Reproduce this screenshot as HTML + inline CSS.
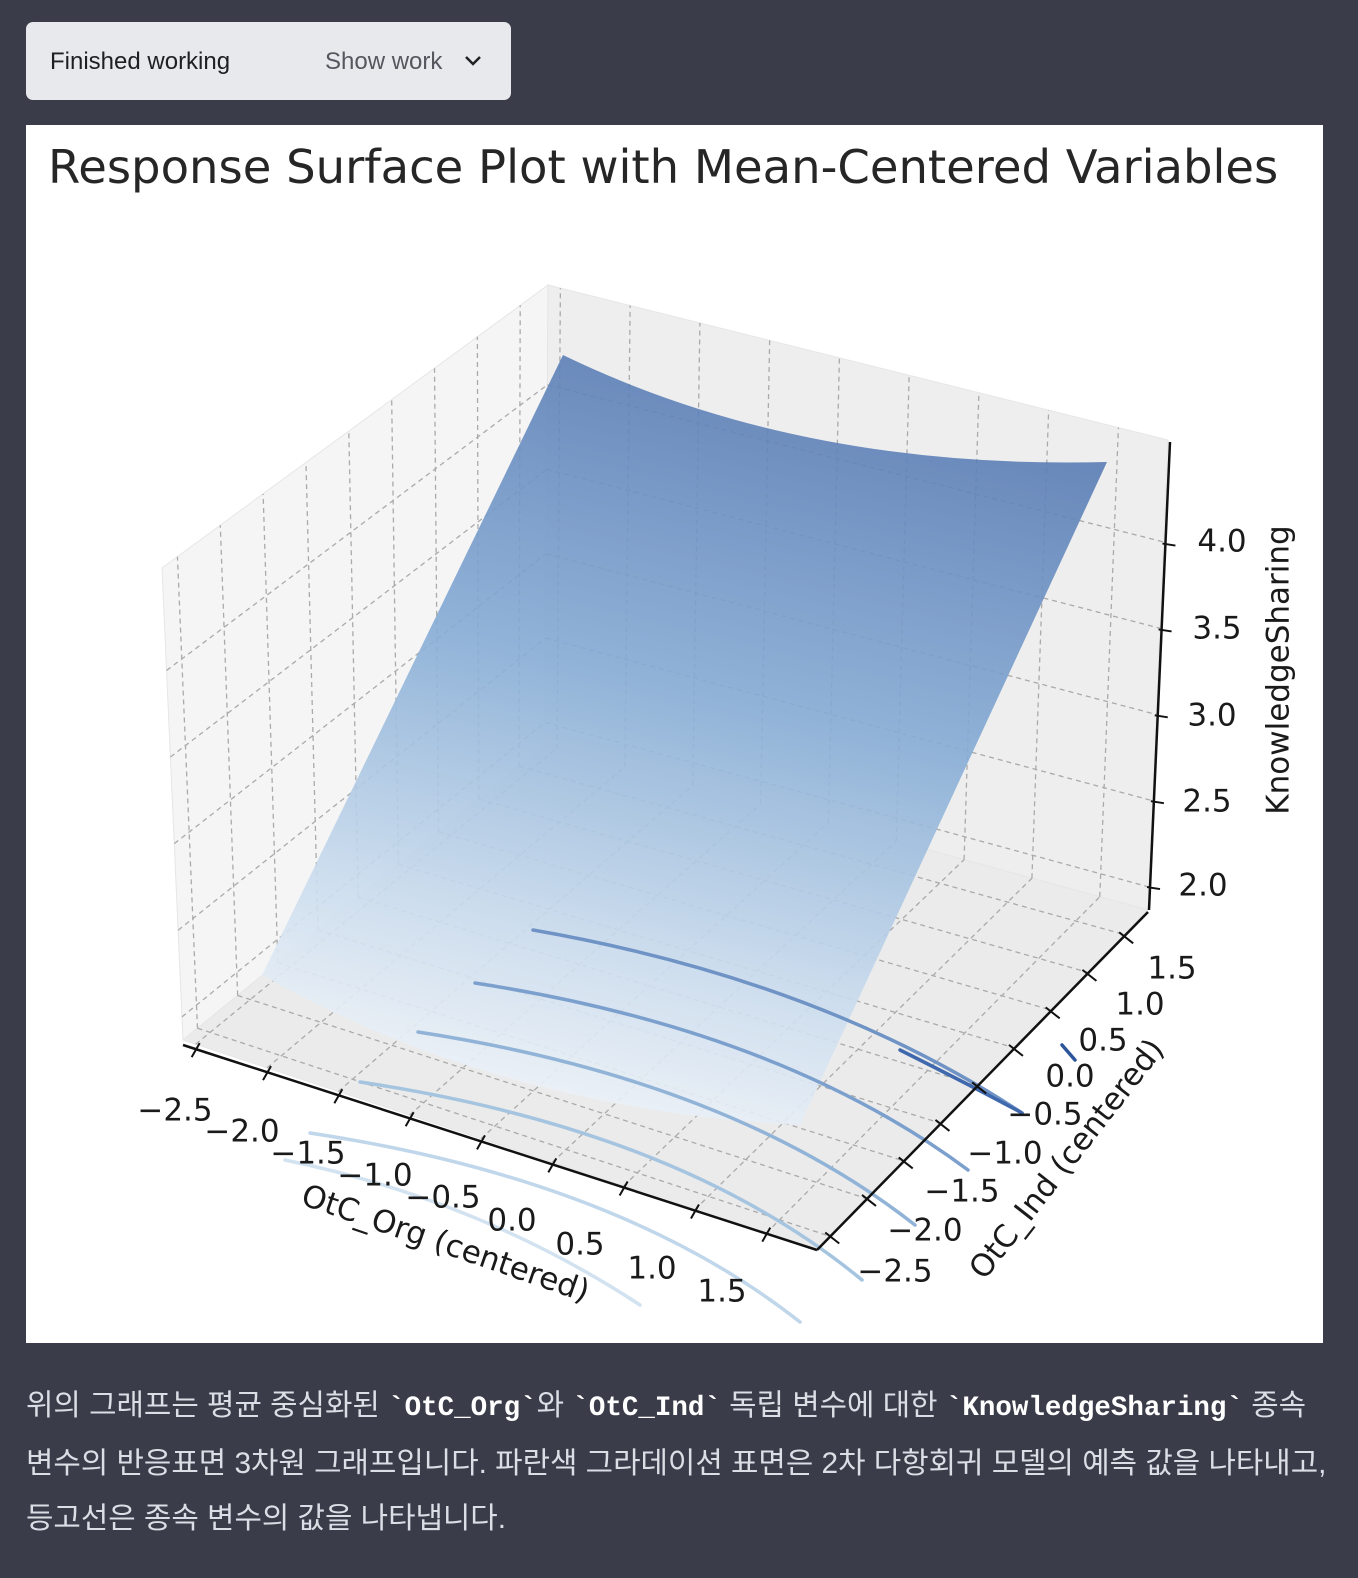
<!DOCTYPE html>
<html><head><meta charset="utf-8"><style>
body{margin:0;width:1358px;height:1578px;background:#3a3c49;position:relative;overflow:hidden;font-family:"Liberation Sans","Noto Sans CJK KR",sans-serif}
.btn{position:absolute;left:26px;top:22px;width:485px;height:78px;background:#e8e9ed;border-radius:7px}
.btn .a{position:absolute;left:24px;top:26px;font-size:24px;color:#1e1f25}
.btn .b{position:absolute;left:299px;top:26px;font-size:24px;color:#55575f}
.chart{position:absolute;left:26px;top:125px;width:1297px;height:1218px;background:#fff}
.txt{position:absolute;left:26px;top:1378px;width:1330px;color:#dcdee6;font-size:29.8px;line-height:55px;white-space:nowrap}
.txt code{font-family:"Liberation Mono",monospace;font-weight:bold;color:#fff;font-size:27.5px}
</style></head><body>
<div class="btn"><span class="a">Finished working</span><span class="b">Show work</span>
<svg style="position:absolute;left:437px;top:31px" width="20" height="16"><path d="M3 4 L10 11 L17 4" stroke="#222" stroke-width="2.5" fill="none"/></svg></div>
<div class="chart"></div>
<svg id="s" style="position:absolute;left:0;top:0" width="1358" height="1578" font-family="DejaVu Sans, Liberation Sans, sans-serif">
<defs>
<linearGradient id="sg" gradientUnits="userSpaceOnUse" x1="720" y1="380" x2="540" y2="1130">
<stop offset="0" stop-color="#5a7db5"/><stop offset="0.4" stop-color="#86acd5"/><stop offset="0.75" stop-color="#cadcee"/><stop offset="1" stop-color="#f3f6fa"/></linearGradient>
</defs>
<g id="walls">
<polygon points="162,568 548,285 545,745 183,1040" fill="#f5f5f5" stroke="#e6e6e6"/>
<polygon points="548,285 1168,440 1148,910 545,745" fill="#eeeeee" stroke="#e6e6e6"/>
<polygon points="183,1040 545,745 1148,910 817,1250" fill="#ebebeb" stroke="#e6e6e6"/>
</g>
<g id="grid" stroke="#aaa" stroke-width="1.3" stroke-dasharray="5,4" fill="none"></g>
<path d="M563,355 Q800,470 1107,462 L800,1125 Q500,1110 262,975 Z" fill="url(#sg)" opacity="0.9"/>
<g fill="none" stroke-width="3.5" stroke-linecap="round">
<path d="M533,930 Q820,980 1022,1113" stroke="#6f93c5"/>
<path d="M900,1050 Q970,1085 1022,1113" stroke="#3f68ad"/>
<path d="M475,983 Q780,1030 968,1170" stroke="#7ca0cd"/>
<path d="M418,1032 Q730,1080 915,1225" stroke="#90b3d7"/>
<path d="M360,1082 Q680,1130 862,1280" stroke="#a5c4e0"/>
<path d="M310,1133 Q620,1180 800,1322" stroke="#c0d6ea"/>
<path d="M285,1160 Q480,1200 640,1305" stroke="#d2e2f0"/>
<path d="M1062,1045 L1075,1060" stroke="#2d559a"/>
</g>
<g stroke="#111" stroke-width="2.5">
<line x1="183" y1="1045" x2="817" y2="1250"/>
<line x1="817" y1="1250" x2="1148" y2="912"/>
<line x1="1170" y1="442" x2="1149" y2="910"/>
</g>
<g id="ticks" stroke="#111" stroke-width="2"></g>
<text x="48" y="183" font-size="46.5" fill="#262626">Response Surface Plot with Mean-Centered Variables</text>
<g font-size="31" fill="#1a1a1a" text-anchor="middle" dominant-baseline="middle">
<text x="1222" y="543">4.0</text><text x="1217" y="630">3.5</text><text x="1212" y="717">3.0</text><text x="1207" y="803">2.5</text><text x="1203" y="887">2.0</text>
<text x="175" y="1112">−2.5</text><text x="242" y="1133">−2.0</text><text x="308" y="1155">−1.5</text><text x="375" y="1177">−1.0</text><text x="443" y="1199">−0.5</text><text x="512" y="1222">0.0</text><text x="580" y="1246">0.5</text><text x="652" y="1270">1.0</text><text x="722" y="1293">1.5</text>
<text x="895" y="1273">−2.5</text><text x="925" y="1232">−2.0</text><text x="962" y="1193">−1.5</text><text x="1005" y="1155">−1.0</text><text x="1045" y="1116">−0.5</text><text x="1070" y="1078">0.0</text><text x="1103" y="1042">0.5</text><text x="1140" y="1006">1.0</text><text x="1172" y="970">1.5</text>
<text transform="translate(1280,670) rotate(-90)">KnowledgeSharing</text>
<text transform="translate(445,1245) rotate(19)">OtC_Org (centered)</text>
<text transform="translate(1068,1160) rotate(-52)">OtC_Ind (centered)</text>
</g>
</svg>
<div class="txt">위의 그래프는 평균 중심화된 <code>`OtC_Org`</code>와 <code>`OtC_Ind`</code> 독립 변수에 대한 <code>`KnowledgeSharing`</code> 종속<br>변수의 반응표면 3차원 그래프입니다. 파란색 그라데이션 표면은 2차 다항회귀 모델의 예측 값을 나타내고,<br>등고선은 종속 변수의 값을 나타냅니다.</div>
<script>
const NS="http://www.w3.org/2000/svg",g=document.getElementById('grid'),tk=document.getElementById('ticks');
function L(p,q,par){const l=document.createElementNS(NS,'line');l.setAttribute('x1',p[0]);l.setAttribute('y1',p[1]);l.setAttribute('x2',q[0]);l.setAttribute('y2',q[1]);(par||g).appendChild(l);}
function lerp(a,b,t){return [a[0]+(b[0]-a[0])*t,a[1]+(b[1]-a[1])*t];}
const F0=[183,1040],F1=[817,1250],F2=[1148,910],F3=[545,745],LT0=[162,568],LT1=[548,285],BT1=[1168,440];
const us=[],vs=[],ws=[];for(let i=0;i<9;i++){us.push(0.02+0.1125*i);vs.push(0.04+0.111*i);}
for(let i=0;i<5;i++)ws.push(0.049+0.1835*i);
us.forEach(u=>L(lerp(F0,F1,u),lerp(F3,F2,u)));
vs.forEach(v=>L(lerp(F0,F3,v),lerp(F1,F2,v)));
vs.forEach(v=>L(lerp(F0,F3,v),lerp(LT0,LT1,v)));
ws.forEach(w=>L(lerp(F0,LT0,w),lerp(F3,LT1,w)));
us.forEach(u=>L(lerp(F3,F2,u),lerp(LT1,BT1,u)));
ws.forEach(w=>L(lerp(F3,LT1,w),lerp(F2,BT1,w)));
const A0=[183,1045],A1=[817,1250],B1=[1148,912];
us.forEach(u=>{const p=lerp(A0,A1,u);L([p[0]+4,p[1]-6],[p[0]-4,p[1]+8],tk);});
vs.forEach(v=>{const p=lerp(A1,B1,v);L([p[0]-5,p[1]-4],[p[0]+9,p[1]+7],tk);});
ws.forEach(w=>{const p=lerp([1149,910],[1170,442],w);L([p[0]-3,p[1]],[p[0]+10,p[1]+2],tk);});
</script>
</body></html>
